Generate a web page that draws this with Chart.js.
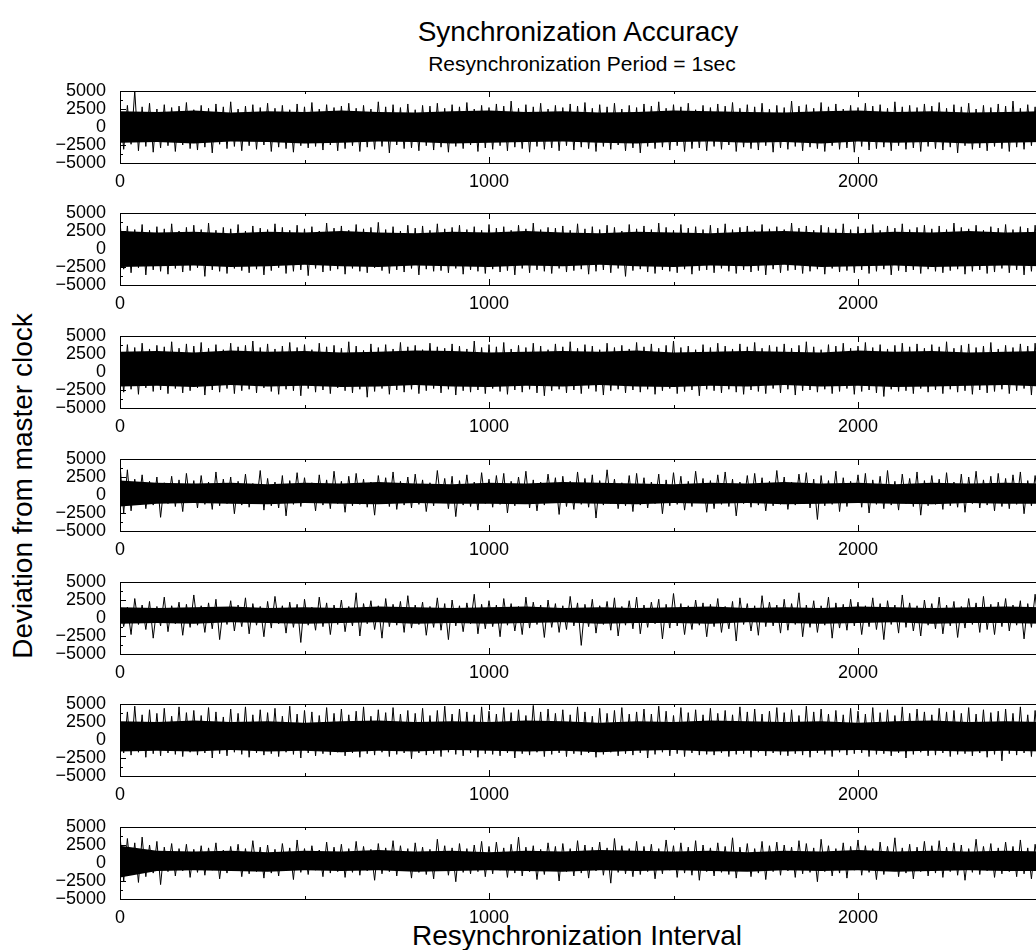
<!DOCTYPE html>
<html>
<head>
<meta charset="utf-8">
<script src="https://cdn.jsdelivr.net/npm/chart.js@4.4.0/dist/chart.umd.min.js"></script>
<style>
html, body { margin: 0; padding: 0; background: #fff; overflow: hidden; width: 1036px; height: 950px; }
.lbl { position: absolute; font-family: "Liberation Sans", Arial, sans-serif; color: #000; white-space: nowrap; }
canvas { position: absolute; left: 0; }
</style>
</head>
<body>
<div class="lbl" style="left:578px;top:32px;font-size:28px;transform:translate(-50%,-50%)">Synchronization Accuracy</div>
<div class="lbl" style="left:582px;top:64px;font-size:21px;transform:translate(-50%,-50%)">Resynchronization Period = 1sec</div>
<div class="lbl" style="left:23px;top:486px;font-size:28px;transform:translate(-50%,-50%) rotate(-90deg)">Deviation from master clock</div>
<div class="lbl" style="left:577px;top:936px;font-size:28px;transform:translate(-50%,-50%)">Resynchronization Interval</div>

<script>
// sample spacing of the values below (resynchronization intervals)
let sampleStep = 10
let coreStep = 100

let xTickValues = [0, 500, 1000, 1500, 2000, 2500]
let yTickValues = [-5000, -3750, -2500, -1250, 0, 1250, 2500, 3750, 5000]

// panel 1
let spikes1 = [
 2600,-3100,3000,-2400,5000,-3300,2800,-2700,3300,-3500,2500,-2900,3100,-2600,2700,-3400,2900,-2500,3400,-3000,
 2400,-3200,3000,-2800,2600,-3600,3200,-2400,2800,-3000,3500,-2700,2500,-3300,2900,-2600,3100,-3100,2700,-2500,
 3300,-3400,2600,-2800,3000,-3000,2400,-3500,3200,-2600,2800,-2900,3400,-2700,2500,-3200,3100,-2500,2700,-3300,
 2900,-3000,3300,-2600,2600,-3400,3000,-2800,2500,-3100,3500,-2700,2800,-3600,3100,-2500,2700,-3000,3200,-2900,
 2400,-3300,3000,-2600,2900,-3200,3300,-2800,2600,-3500,3100,-2700,2800,-3000,3400,-2500,2500,-3400,3000,-2900,
 2700,-3100,3200,-2600,2900,-3300,3600,-2800,2600,-3000,3100,-3500,2800,-2700,3300,-3100,2500,-2900,3000,-3300,
 2700,-2600,3200,-3200,2900,-2800,3400,-3000,2600,-3400,3100,-2700,2800,-3100,3300,-2500,2500,-3300,3000,-2900,
 2700,-3600,3200,-2700,2900,-3000,3500,-2800,2600,-3200,3100,-2600,2800,-3400,3300,-3000,2400,-2900,3000,-3300,
 2700,-2700,3200,-3100,2900,-2500,3400,-3400,2600,-2800,3100,-3000,2800,-3200,3300,-2600,2500,-3500,3000,-2900,
 2700,-3100,3600,-2700,2900,-3300,3100,-2800,2600,-3000,3400,-3400,2800,-2600,3200,-3100,2500,-2900,3000,-3500,
 2700,-2700,3300,-3200,2900,-3000,3100,-2800,2600,-3300,3500,-2600,2800,-3100,3000,-2900,2700,-3400,3200,-2700,
 2900,-3000,3400,-3200,2600,-2800,3100,-3600,2800,-2600,3300,-3100,2500,-2900,3000,-3300,2700,-2700,3200,-3000,
 2900,-3400,3600,-2800,2600,-3100,3100,-2600,2800,-3200,3300,-3000,2500,-3300,3000,-2900,2700,-3600,3200,-2700
]
let coreHigh1 = [2200,2100,2300,2000,2200,2100,2300,2100,2000,2200,2300,2100,2200,2000,2100,2300,2200,2100,2000,2200,2300,2100,2200,2000,2100,2200]
let coreLow1 = [-2200,-2100,-2300,-2000,-2100,-2300,-2200,-2000,-2100,-2300,-2200,-2100,-2000,-2200,-2300,-2100,-2000,-2200,-2100,-2300,-2000,-2200,-2100,-2300,-2200,-2100]

// panel 2
let spikes2 = [
 3900,-2800,3200,-3300,2700,-2600,3400,-3600,2600,-2900,3100,-3100,2800,-3500,3500,-2700,2500,-3200,3000,-3000,
 3300,-2600,2700,-3800,3600,-2900,2600,-3100,3000,-3400,2800,-2700,3400,-3000,2500,-3300,3200,-2800,2900,-3600,
 2700,-3000,3500,-2600,3000,-3400,2600,-3100,3300,-2900,2800,-3700,3100,-2700,2500,-3200,3600,-3000,2900,-2800,
 3200,-3500,2600,-2700,3400,-3100,2800,-3300,3000,-2600,3700,-3000,2700,-3400,3100,-2900,2500,-3200,3300,-2700,
 2900,-3600,3200,-2800,2600,-3100,3500,-3000,2800,-3300,3000,-2700,3300,-3500,2700,-2900,3100,-3100,2600,-3400,
 3400,-2800,2900,-3200,3100,-3000,2600,-3600,3300,-2700,2800,-3300,3600,-2900,2700,-3100,3000,-3400,2900,-2700,
 3200,-3200,2600,-3000,3500,-2800,2800,-3500,3100,-3100,2700,-2900,3300,-3300,3000,-2700,2500,-3800,3400,-3000,
 2800,-2800,3200,-3200,2700,-3400,3600,-2900,3000,-3100,2600,-3300,3400,-2800,2900,-3500,3100,-3000,2700,-2900,
 3300,-3300,2900,-2700,3500,-3100,2700,-3400,3000,-2900,3200,-3200,2600,-3000,3400,-3600,2800,-2800,3100,-3300,
 2700,-3000,3600,-2900,2900,-3400,3200,-3100,2600,-2800,3300,-3500,3000,-2700,2800,-3200,3500,-3000,2700,-3300,
 3100,-2900,2800,-3400,3400,-3100,2600,-2800,3200,-3600,2900,-3000,3500,-3200,2700,-2900,3000,-3400,3300,-2800,
 2800,-3100,3200,-3300,2700,-3000,3600,-2800,3000,-3500,2800,-3100,3300,-2900,2600,-3400,3100,-3200,2900,-2700,
 3400,-3300,2700,-2900,3100,-3600,2900,-3100,3300,-2800,2700,-3400,3500,-3000,2800,-3200,3000,-2900,3200,-3300
]
let coreHigh2 = [2500,2300,2400,2200,2400,2300,2500,2300,2200,2400,2300,2500,2300,2200,2400,2300,2200,2400,2500,2300,2200,2400,2300,2500,2300,2400]
let coreLow2 = [-2500,-2400,-2300,-2500,-2400,-2200,-2400,-2500,-2300,-2400,-2500,-2300,-2400,-2200,-2400,-2500,-2300,-2400,-2200,-2500,-2400,-2300,-2500,-2400,-2300,-2400]

// panel 3
let spikes3 = [
 3000,-2800,3800,-2400,3400,-3100,4000,-2200,3200,-2700,3700,-2500,3500,-3000,4200,-2300,3300,-2900,3900,-2600,
 3600,-2200,4100,-3200,3300,-2500,3800,-2800,3100,-2300,4000,-3000,3500,-2600,3700,-2400,4300,-2900,3400,-2200,
 3900,-2700,3200,-3100,3600,-2400,4100,-2600,3400,-3300,3800,-2300,3100,-2800,4000,-2500,3500,-3000,3700,-2200,
 3300,-2600,4200,-2900,3600,-2400,3000,-3500,3900,-2700,3400,-2300,3800,-3100,3200,-2500,4100,-2800,3500,-2400,
 3700,-3000,3100,-2600,4000,-2300,3500,-2900,3300,-2400,3900,-3200,3600,-2600,3200,-2800,4300,-2500,3400,-3000,
 3800,-2300,3500,-2700,4100,-3100,3200,-2500,3700,-2800,3400,-2400,4000,-2900,3600,-3300,3100,-2600,3900,-2400,
 3500,-2900,4200,-2500,3300,-3000,3800,-2300,3600,-2700,3100,-3200,4000,-2600,3400,-2400,3700,-2900,3200,-2500,
 4100,-2800,3500,-2400,3900,-3100,3300,-2600,3700,-2300,4300,-3000,3400,-2700,3600,-2500,3100,-3300,3800,-2400,
 3400,-2600,4000,-2900,3600,-2400,3200,-2800,3900,-3100,3500,-2500,4100,-2700,3300,-3000,3700,-2300,3500,-2900,
 3900,-2400,3300,-3200,3700,-2600,4200,-2500,3500,-2800,3100,-2400,3800,-3000,3600,-2700,4000,-2300,3300,-3100,
 3600,-2700,4100,-2500,3400,-2900,3800,-3400,3200,-2400,3700,-2700,4000,-2600,3500,-3000,3900,-2300,3300,-2800,
 3800,-2500,3500,-3000,4200,-2400,3300,-2800,3700,-2600,3900,-3100,3400,-2500,3600,-2900,4100,-2700,3200,-2400,
 3700,-3000,3400,-2600,3900,-2300,3600,-3200,4000,-2700,3300,-2500,3800,-2900,3500,-2400,4200,-3100,3400,-2600
]
let coreHigh3 = [2800,2900,2700,3000,2800,2900,2700,2800,3000,2900,2700,2800,2900,2800,3000,2700,2800,2900,2800,2700,3000,2800,2900,2700,2800,2900]
let coreLow3 = [-2000,-1900,-2100,-1800,-2000,-1900,-2100,-2000,-1800,-2000,-2100,-1900,-2000,-1800,-2000,-2100,-1900,-2000,-1800,-2000,-1900,-2100,-2000,-1900,-1800,-2000]

// panel 4
let spikes4 = [
 4300,-2500,3500,-2200,2200,-1300,2800,-1900,1900,-1400,2500,-3100,1700,-1200,2600,-1600,2100,-2300,3000,-1100,
 2000,-1800,2700,-1300,1800,-2000,3200,-1500,2200,-1200,2500,-2600,1900,-1400,2900,-1700,1600,-1100,3400,-2100,
 2300,-1500,1800,-1800,2700,-2900,2000,-1300,3100,-1600,2400,-1100,1700,-2200,2800,-1400,2100,-1900,3300,-1200,
 1900,-2400,2600,-1500,3000,-1300,2200,-1700,1800,-2800,2700,-1200,2400,-1600,3200,-2000,1900,-1400,2500,-1800,
 2900,-1300,2100,-2300,1700,-1500,3400,-1100,2300,-1900,2600,-3000,2000,-1400,2800,-1600,1800,-2100,3100,-1200,
 2200,-1700,2700,-1300,3000,-2500,1900,-1500,2500,-1200,3300,-1800,2100,-2200,1800,-1400,2900,-1100,2400,-2700,
 2600,-1600,1900,-2000,3200,-1300,2300,-1700,2800,-3200,2000,-1400,3500,-1200,2200,-1900,1700,-1500,2700,-2300,
 3000,-1400,2400,-1800,1800,-1200,2900,-2600,2100,-1500,3100,-1300,2600,-2100,1900,-1600,3300,-1100,2300,-2400,
 2000,-1900,2800,-1300,3200,-1600,2200,-2900,1800,-1200,2700,-1700,3000,-1400,2400,-2200,1900,-1500,3400,-1300,
 2500,-2000,1800,-1400,2900,-1200,3100,-1800,2200,-3400,2700,-1500,2000,-1300,3300,-2300,2400,-1600,1900,-1100,
 2800,-1700,3000,-2500,2100,-1300,2600,-1900,3400,-1400,1900,-2100,2900,-1200,2300,-1600,3200,-2800,2000,-1500,
 2700,-1300,2200,-2000,3100,-1500,1800,-1700,2900,-2400,2500,-1200,3300,-1800,2100,-1400,2600,-2200,3000,-1600,
 2300,-1900,2800,-1300,3200,-2600,2000,-1500,2700,-1200,3000,-2000,2200,-1700,3400,-1400,1900,-2300,2600,-1500
]
let coreHigh4 = [2000,1700,1600,1700,1500,1700,1600,1800,1600,1500,1700,1600,1800,1700,1600,1500,1700,1600,1800,1600,1700,1500,1700,1600,1700,1600]
let coreLow4 = [-1600,-1200,-1100,-1200,-1300,-1100,-1200,-1300,-1100,-1200,-1200,-1300,-1100,-1200,-1300,-1100,-1200,-1100,-1300,-1200,-1100,-1200,-1300,-1100,-1200,-1200]

// panel 5
let spikes5 = [
 2000,-1200,1500,-2300,2700,-900,1800,-1600,2300,-2800,1600,-1100,2900,-1900,1700,-800,2200,-2400,1900,-1300,
 3200,-1000,1700,-2000,2100,-1500,2600,-3000,1500,-900,2400,-1800,1800,-1200,2800,-2200,2000,-1000,1600,-2600,
 2300,-1400,3000,-800,1700,-2100,2200,-1300,1900,-3400,2600,-1000,1500,-1700,2900,-1200,2100,-2300,1800,-900,
 2500,-1900,1600,-1100,3500,-2500,2000,-800,2400,-1600,1700,-2800,2700,-1200,1900,-1000,2300,-2000,3100,-1400,
 1800,-900,2200,-2400,1600,-1300,2800,-1700,2000,-3000,2500,-1100,1700,-1900,2100,-800,3300,-2200,1900,-1500,
 2400,-1200,1800,-2600,2700,-1000,2000,-1800,1600,-2300,2900,-1400,2200,-900,1800,-2700,2500,-1300,2000,-2000,
 1700,-1600,3000,-1100,2100,-3800,1900,-1200,2600,-2100,1700,-900,2300,-1700,2800,-2500,1600,-1000,2400,-1500,
 2900,-2200,1800,-1300,2200,-800,2600,-2900,1900,-1400,3400,-1100,2000,-2300,1700,-1600,2500,-1000,2100,-2600,
 1900,-1200,2700,-2000,1600,-1500,2300,-3200,2800,-900,2000,-1800,1700,-2400,3100,-1200,2200,-1100,1800,-2100,
 2600,-1700,2000,-900,3500,-2600,1800,-1300,2400,-2000,1700,-1000,2900,-2800,2100,-1400,1900,-1700,2600,-1100,
 2200,-2300,1700,-1200,2800,-1600,2000,-3000,2400,-900,1800,-2100,3200,-1300,2100,-1800,1700,-2500,2500,-1000,
 2000,-1500,2900,-2200,1800,-1100,2300,-2700,1600,-1400,2700,-900,2100,-2000,3000,-1600,1900,-2300,2200,-1200,
 2700,-1800,1800,-1000,2400,-2900,2000,-1300,3300,-1700,1700,-2200,2500,-1100,2100,-2600,1800,-1400,2600,-2000
]
let coreHigh5 = [1500,1400,1500,1600,1400,1500,1400,1600,1500,1400,1500,1600,1400,1500,1400,1500,1600,1400,1500,1400,1600,1500,1400,1500,1600,1500]
let coreLow5 = [-800,-700,-800,-600,-700,-800,-700,-600,-800,-700,-800,-700,-600,-800,-700,-700,-800,-600,-700,-800,-700,-600,-800,-700,-700,-800]

// panel 6
let spikes6 = [
 2800,-1800,3900,-2100,4700,-1700,3500,-2400,4200,-1900,3700,-2200,4400,-1800,3300,-2000,4600,-2300,3800,-1700,
 4100,-2100,3400,-1800,4500,-2500,3900,-1900,3200,-2200,4300,-1700,3700,-2000,4600,-2400,3500,-1800,4200,-2100,
 3800,-1900,4400,-2300,3300,-1700,4700,-2000,3600,-2500,4100,-1800,3900,-2200,3400,-1900,4500,-2100,3700,-1700,
 4300,-2200,3500,-1800,4000,-2400,4600,-1900,3300,-2100,4200,-1700,3800,-2300,4500,-2000,3600,-1800,4100,-2600,
 3700,-1800,4400,-2100,3400,-1900,4100,-2300,4700,-1700,3600,-2000,4300,-2200,3900,-1800,3500,-2400,4600,-1900,
 4000,-2000,3600,-2200,4500,-1800,3800,-2500,4200,-1900,3400,-2100,4800,-1700,3900,-2300,4300,-2000,3700,-1800,
 4200,-2300,3500,-1900,4600,-2100,3900,-1800,3300,-2400,4400,-2000,3700,-1700,4100,-2200,4500,-1900,3600,-2100,
 3900,-1800,4300,-2500,3600,-2000,4700,-1700,4000,-2200,3400,-1900,4500,-2300,3800,-1800,4200,-2100,3500,-2000,
 4400,-2100,3700,-1800,4100,-2300,3500,-2000,4600,-1900,3900,-2400,4300,-1700,3600,-2200,4000,-1800,4500,-2100,
 3800,-2200,4200,-1900,3400,-2100,4700,-2400,3900,-1800,4300,-2000,3600,-2300,4100,-1700,3500,-2100,4400,-1900,
 4000,-1800,3600,-2300,4500,-2000,3800,-1900,4200,-2200,3400,-1800,4600,-2500,3700,-2000,4300,-1700,3900,-2200,
 3500,-2100,4400,-1800,3900,-2300,4100,-2000,3700,-1900,4500,-2200,3600,-1800,4200,-2400,3800,-2000,4000,-2900,
 4300,-1900,3700,-2100,4600,-1800,3500,-2300,4100,-2000,3900,-1700,4400,-2200,3600,-1900,4200,-2100,3800,-2000
]
let coreHigh6 = [2600,2500,2700,2500,2600,2400,2600,2700,2500,2600,2500,2700,2600,2400,2600,2500,2700,2600,2500,2600,2400,2600,2700,2500,2600,2500]
let coreLow6 = [-1600,-1500,-1600,-1400,-1600,-1500,-1700,-1500,-1600,-1400,-1500,-1600,-1500,-1700,-1500,-1400,-1600,-1500,-1600,-1500,-1400,-1600,-1500,-1600,-1500,-1600]

// panel 7
let spikes7 = [
 3900,-2500,3400,-1600,2800,-2700,3600,-1900,2500,-1400,3000,-3000,2200,-1200,2700,-1800,2000,-1100,2600,-2000,
 1900,-1300,2400,-1700,2100,-1000,2800,-2200,1800,-1400,2300,-1100,2600,-1900,2000,-1500,3100,-1200,2200,-2100,
 2500,-1400,1900,-1800,2700,-1100,2100,-2300,3200,-1300,2000,-1600,2400,-1000,1800,-1900,2900,-1400,2200,-1200,
 2600,-2000,2000,-1300,3000,-1700,2300,-1100,1900,-2400,2700,-1500,2100,-1200,3100,-1800,2400,-1000,2000,-2100,
 2800,-1300,2200,-1600,1900,-2200,3300,-1100,2400,-1700,2100,-2600,2700,-1300,2000,-1500,2500,-1200,3000,-1900,
 2300,-1500,2900,-1000,2100,-2000,2600,-1400,3600,-1800,2200,-1200,2400,-2300,1900,-1600,2800,-1100,2300,-2500,
 2700,-1200,2000,-1800,3100,-1400,2500,-2100,2200,-1100,2900,-1700,2100,-2800,3400,-1300,2400,-1500,2000,-1900,
 3000,-1600,2300,-1200,2600,-2200,2000,-1500,3200,-1000,2400,-2000,2800,-1400,2200,-1700,3100,-2400,2500,-1200,
 2100,-1800,2800,-1300,2300,-1600,3500,-2100,2200,-1100,2700,-1900,2000,-1400,3000,-2300,2400,-1200,2900,-1700,
 2500,-1100,2200,-2000,3100,-1500,2700,-1300,2100,-2600,3300,-1200,2400,-1800,2000,-1400,2800,-2100,2300,-1000,
 3200,-1700,2400,-1300,2000,-2300,2900,-1600,2300,-1100,3500,-1900,2100,-1400,2600,-2200,2200,-1200,3000,-1800,
 2400,-1400,3100,-2000,2200,-1200,2800,-1700,2500,-2400,2000,-1300,3300,-1600,2300,-1100,2700,-2000,2100,-1500,
 2900,-1200,2300,-1900,3200,-1500,2100,-2200,2600,-1100,3000,-1700,2400,-1400,2800,-2300,2200,-1300,3100,-1600
]
let coreHigh7 = [2400,1700,1600,1700,1500,1700,1600,1800,1600,1700,1500,1700,1600,1800,1700,1600,1700,1500,1700,1600,1800,1600,1700,1600,1700,1600]
let coreLow7 = [-2000,-1100,-1000,-1100,-1200,-1000,-1100,-1000,-1200,-1100,-1000,-1100,-1200,-1000,-1100,-1000,-1100,-1200,-1000,-1100,-1000,-1200,-1100,-1000,-1100,-1100]

let panelTops = [91, 213, 336, 459, 582, 704, 827]
let panels = [
    [spikes1, coreHigh1, coreLow1],
    [spikes2, coreHigh2, coreLow2],
    [spikes3, coreHigh3, coreLow3],
    [spikes4, coreHigh4, coreLow4],
    [spikes5, coreHigh5, coreLow5],
    [spikes6, coreHigh6, coreLow6],
    [spikes7, coreHigh7, coreLow7]
]

let fontFamily = '"Liberation Sans", Arial, sans-serif'

// frame with inward tick marks, like the original plot
let framePlugin = {
    id: 'frame',
    afterDatasetsDraw(chart) {
        let ctx = chart.ctx
        let a = chart.chartArea
        let xs = chart.scales.x
        let ys = chart.scales.y
        ctx.save()
        ctx.strokeStyle = '#000'
        ctx.lineWidth = 1
        ctx.strokeRect(a.left + 0.5, a.top + 0.5, a.right - a.left, a.bottom - a.top)
        ctx.beginPath()
        xTickValues.forEach(function (v) {
            let px = Math.round(xs.getPixelForValue(v)) + 0.5
            let len = v % 1000 === 0 ? 6 : 3
            ctx.moveTo(px, a.bottom)
            ctx.lineTo(px, a.bottom - len)
            ctx.moveTo(px, a.top)
            ctx.lineTo(px, a.top + len)
        })
        yTickValues.forEach(function (v) {
            let py = Math.round(ys.getPixelForValue(v)) + 0.5
            let len = v % 2500 === 0 ? 6 : 3
            ctx.moveTo(a.left, py)
            ctx.lineTo(a.left + len, py)
        })
        ctx.stroke()
        ctx.restore()
    }
}

function Charting(top, spikes, high, low) {
    let canvas = document.createElement('canvas')
    canvas.width = 1050
    canvas.height = 116
    canvas.style.top = (top - 12) + 'px'
    document.body.appendChild(canvas)
    let ctx = canvas.getContext('2d')

    let data = {
        type: 'line',
        data: {
            datasets: [{
                data: high.map(function (v, i) { return {x: i * coreStep, y: v} }),
                borderColor: 'rgba(0,0,0,0)',
                borderWidth: 0,
                backgroundColor: '#000',
                pointRadius: 0,
                fill: '+1'
            }, {
                data: low.map(function (v, i) { return {x: i * coreStep, y: v} }),
                borderColor: 'rgba(0,0,0,0)',
                borderWidth: 0,
                pointRadius: 0,
                fill: false
            }, {
                data: spikes.map(function (v, i) { return {x: i * sampleStep, y: v} }),
                borderColor: '#000',
                borderWidth: 1,
                pointRadius: 0,
                fill: false
            }]
        },
        options: {
            responsive: false,
            animation: false,
            devicePixelRatio: 1,
            layout: {padding: {top: 12, right: 7.5, left: 0, bottom: 0}},
            plugins: {legend: {display: false}, tooltip: {enabled: false}},
            scales: {
                x: {
                    type: 'linear', min: 0, max: 2500,
                    afterFit: function (s) { s.height = 32; s.paddingLeft = 0; s.paddingRight = 0 },
                    grid: {display: false, drawTicks: false},
                    border: {display: false},
                    ticks: {
                        stepSize: 500, autoSkip: false, maxRotation: 0, padding: 8,
                        color: '#000', font: {family: fontFamily, size: 18},
                        callback: function (v) { return v % 1000 === 0 ? String(v) : '' }
                    }
                },
                y: {
                    min: -5000, max: 5000,
                    afterFit: function (s) { s.width = 120; s.paddingTop = 0; s.paddingBottom = 0 },
                    grid: {display: false, drawTicks: false},
                    border: {display: false},
                    ticks: {
                        stepSize: 2500, autoSkip: false, padding: 14,
                        color: '#000', font: {family: fontFamily, size: 18},
                        callback: function (v) { return String(v).replace('-', '\u2212') }
                    }
                }
            }
        },
        plugins: [framePlugin]
    }
    new Chart(ctx, data)
}

panels.forEach(function (p, i) {
    Charting(panelTops[i], p[0], p[1], p[2])
})
</script>
</body>
</html>
